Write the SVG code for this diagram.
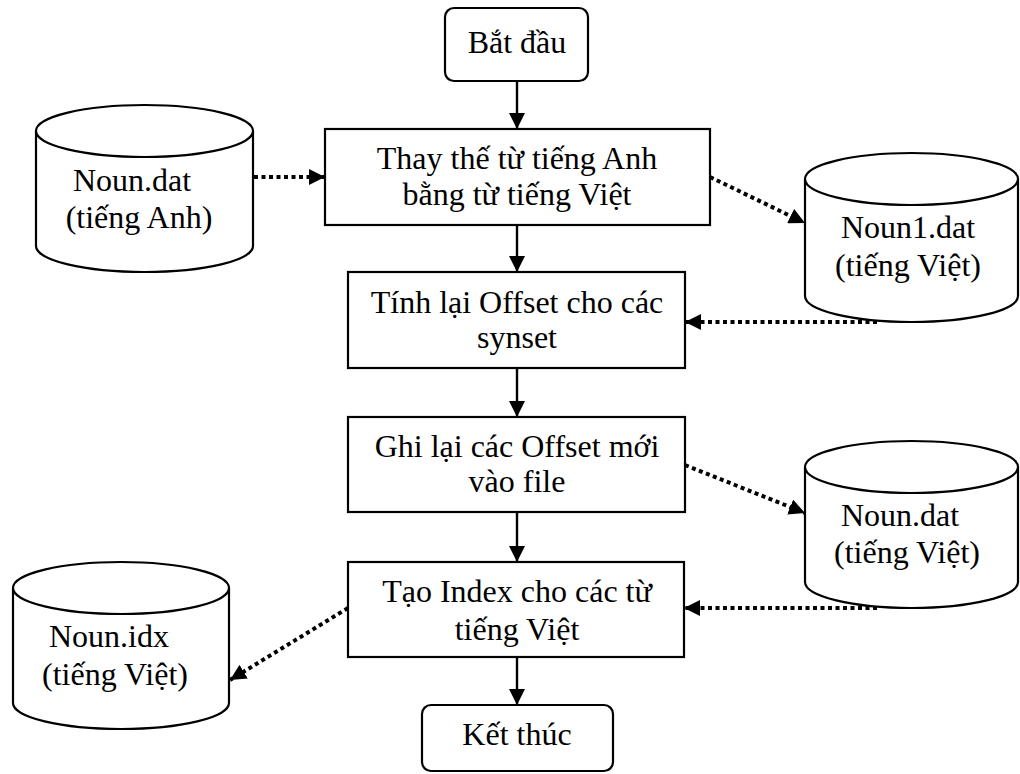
<svg xmlns="http://www.w3.org/2000/svg" width="1020" height="774" viewBox="0 0 1020 774">
<defs>
<style>
.box{fill:#fff;stroke:#000;stroke-width:2.2}
.cyl{fill:#fff;stroke:#000;stroke-width:2.2}
.t{font-family:"Liberation Serif","Times New Roman",serif;font-size:32px;fill:#000;text-anchor:middle}
.solid{stroke:#000;stroke-width:2.4;fill:none}
.dot{stroke:#000;stroke-width:4;fill:none;stroke-dasharray:4 3.5}
</style>
<marker id="ah" markerUnits="userSpaceOnUse" markerWidth="18" markerHeight="16" refX="16" refY="8" orient="auto">
<path d="M0,0 L16,8 L0,16 Z" fill="#000"/>
</marker>
</defs>
<g id="connectors">
<line class="solid" x1="517" y1="81" x2="517" y2="129" marker-end="url(#ah)"/>
<line class="solid" x1="517" y1="225" x2="517" y2="272" marker-end="url(#ah)"/>
<line class="solid" x1="517" y1="368" x2="517" y2="417" marker-end="url(#ah)"/>
<line class="solid" x1="517" y1="512" x2="517" y2="562" marker-end="url(#ah)"/>
<line class="solid" x1="517" y1="657" x2="517" y2="705" marker-end="url(#ah)"/>
<line class="dot" x1="254" y1="177" x2="325" y2="177" marker-end="url(#ah)"/>
<line class="dot" x1="710" y1="177" x2="805" y2="223" marker-end="url(#ah)"/>
<line class="dot" x1="877" y1="322" x2="685" y2="322" marker-end="url(#ah)"/>
<line class="dot" x1="685" y1="465" x2="805" y2="513" marker-end="url(#ah)"/>
<line class="dot" x1="877" y1="608" x2="684" y2="608" marker-end="url(#ah)"/>
<line class="dot" x1="348" y1="608" x2="230" y2="680" marker-end="url(#ah)"/>
</g>
<g id="start">
<rect class="box" x="445" y="8" width="143" height="73" rx="9"/>
<text class="t" x="517" y="53">Bắt đầu</text>
</g>
<g id="replace">
<rect class="box" x="325" y="129" width="385" height="96"/>
<text class="t" x="517" y="169">Thay thế từ tiếng Anh</text>
<text class="t" x="517" y="205">bằng từ tiếng Việt</text>
</g>
<g id="recalc">
<rect class="box" x="348" y="272" width="337" height="96"/>
<text class="t" x="517" y="313">Tính lại Offset cho các</text>
<text class="t" x="517" y="348">synset</text>
</g>
<g id="write">
<rect class="box" x="348" y="417" width="337" height="95"/>
<text class="t" x="517" y="457">Ghi lại các Offset mới</text>
<text class="t" x="517" y="492">vào file</text>
</g>
<g id="index">
<rect class="box" x="348" y="562" width="336" height="95"/>
<text class="t" x="517" y="602">Tạo Index cho các từ</text>
<text class="t" x="517" y="640">tiếng Việt</text>
</g>
<g id="end">
<rect class="box" x="422" y="705" width="191" height="66" rx="9"/>
<text class="t" x="517" y="745">Kết thúc</text>
</g>
<g id="noun-dat-en">
<path class="cyl" d="M36,131 A108.5,26 0 0 1 253,131 L253,246 A108.5,26 0 0 1 36,246 Z"/>
<path class="cyl" fill="none" d="M36,131 A108.5,26 0 0 0 253,131"/>
<text class="t" x="132" y="191">Noun.dat</text>
<text class="t" x="139" y="228">(tiếng Anh)</text>
</g>
<g id="noun1-dat-vi">
<path class="cyl" d="M805,179 A106.5,26 0 0 1 1018,179 L1018,296 A106.5,26 0 0 1 805,296 Z"/>
<path class="cyl" fill="none" d="M805,179 A106.5,26 0 0 0 1018,179"/>
<text class="t" x="908" y="238">Noun1.dat</text>
<text class="t" x="908" y="276">(tiếng Việt)</text>
</g>
<g id="noun-dat-vi">
<path class="cyl" d="M805,467 A106.5,26 0 0 1 1018,467 L1018,582 A106.5,26 0 0 1 805,582 Z"/>
<path class="cyl" fill="none" d="M805,467 A106.5,26 0 0 0 1018,467"/>
<text class="t" x="900" y="526">Noun.dat</text>
<text class="t" x="907" y="563">(tiếng Việt)</text>
</g>
<g id="noun-idx-vi">
<path class="cyl" d="M13,588 A108,26 0 0 1 229,588 L229,703 A108,26 0 0 1 13,703 Z"/>
<path class="cyl" fill="none" d="M13,588 A108,26 0 0 0 229,588"/>
<text class="t" x="109" y="647">Noun.idx</text>
<text class="t" x="115" y="685">(tiếng Việt)</text>
</g>
</svg>
